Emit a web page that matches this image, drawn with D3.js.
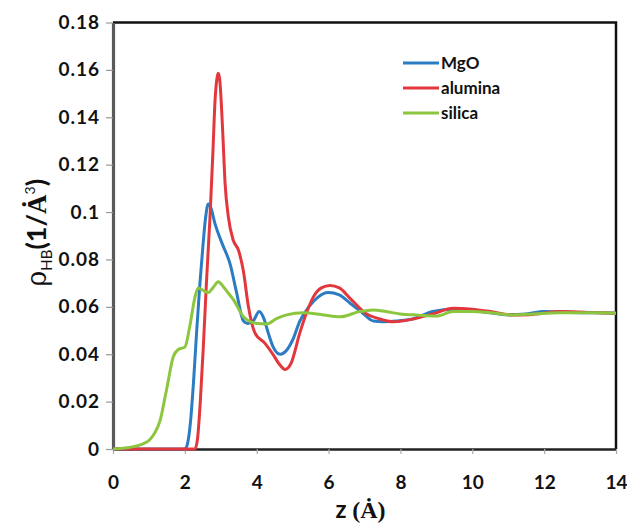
<!DOCTYPE html>
<html>
<head>
<meta charset="utf-8">
<script src="https://cdn.jsdelivr.net/npm/d3@7"></script>
<style>
  body { margin: 0; background: #fff; }
  svg { display: block; }
  .tick text { font-family: Lato, "Open Sans", sans-serif; font-weight: bold; font-size: 19px; fill: #111; }
  .y.axis .tick text { letter-spacing: 1px; }
  .legend text { font-family: Lato, "Open Sans", sans-serif; font-weight: bold; font-size: 17px; fill: #111; }
</style>
</head>
<body>
<div id="chart"></div>
<script>
// series: z in angstrom, rho_HB in 1/A^3
const mgoZ = [0, 2.0, 2.07, 2.16, 2.24, 2.33, 2.42, 2.51, 2.58, 2.65, 2.72, 2.84, 3.03, 3.26, 3.44, 3.63, 3.75, 3.9, 4.07, 4.2, 4.32, 4.46, 4.65, 4.85, 5.0, 5.2, 5.45, 5.7, 5.99, 6.3, 6.6, 6.9, 7.25, 7.52, 7.9, 8.36, 8.9, 9.5, 10, 10.5, 11, 11.5, 12, 12.5, 13, 13.5, 14];
const mgoV = [0, 0, 0.002, 0.012, 0.028, 0.05, 0.070, 0.087, 0.098, 0.1034, 0.102, 0.095, 0.087, 0.078, 0.066, 0.054, 0.053, 0.054, 0.058, 0.055, 0.049, 0.043, 0.040, 0.042, 0.046, 0.054, 0.060, 0.064, 0.066, 0.065, 0.0615, 0.058, 0.054, 0.0537, 0.054, 0.055, 0.058, 0.059, 0.0585, 0.0575, 0.0567, 0.057, 0.058, 0.0578, 0.0575, 0.0575, 0.0573];

const aluminaZ = [0, 2.28, 2.35, 2.43, 2.51, 2.6, 2.70, 2.78, 2.84, 2.9, 2.93, 2.97, 3.05, 3.12, 3.21, 3.35, 3.49, 3.63, 3.77, 3.95, 4.23, 4.45, 4.62, 4.79, 4.95, 5.2, 5.4, 5.57, 5.8, 6.04, 6.3, 6.6, 7.06, 7.4, 7.8, 8.4, 8.9, 9.47, 10, 10.5, 11.1, 11.6, 12.4, 13, 13.5, 14];
const aluminaV = [0, 0, 0.004, 0.02, 0.042, 0.07, 0.098, 0.125, 0.147, 0.157, 0.1586, 0.156, 0.135, 0.112, 0.098, 0.088, 0.084, 0.075, 0.060, 0.049, 0.0446, 0.040, 0.036, 0.0336, 0.036, 0.049, 0.058, 0.064, 0.068, 0.069, 0.068, 0.0636, 0.057, 0.055, 0.0537, 0.055, 0.057, 0.0594, 0.059, 0.058, 0.0566, 0.0567, 0.058, 0.0578, 0.0575, 0.0573];

const silicaZ = [0, 0.57, 0.8, 1.03, 1.17, 1.31, 1.49, 1.68, 1.82, 2.0, 2.14, 2.28, 2.37, 2.5, 2.65, 2.78, 2.93, 3.07, 3.2, 3.35, 3.63, 3.85, 4.0, 4.28, 4.55, 4.83, 5.3, 5.86, 6.32, 6.87, 7.25, 7.6, 7.99, 8.5, 9.0, 9.47, 10, 10.5, 11.14, 11.7, 12.4, 13, 13.5, 14];
const silicaV = [0, 0.001, 0.002, 0.004, 0.007, 0.012, 0.025, 0.039, 0.042, 0.043, 0.052, 0.064, 0.068, 0.067, 0.066, 0.068, 0.0706, 0.0685, 0.066, 0.063, 0.0558, 0.0535, 0.053, 0.0528, 0.055, 0.0566, 0.0575, 0.0566, 0.0558, 0.058, 0.0587, 0.058, 0.057, 0.0565, 0.0561, 0.058, 0.058, 0.0575, 0.0566, 0.057, 0.0575, 0.0575, 0.0575, 0.0573];

const seriesNames = ["MgO", "alumina", "silica"];
const xTicks = [0, 2, 4, 6, 8, 10, 12, 14];
const yTicks = [0, 0.02, 0.04, 0.06, 0.08, 0.1, 0.12, 0.14, 0.16, 0.18];

const colors = { "MgO": "#2b7cc3", "alumina": "#e2383d", "silica": "#8cc63f" };

const series = [
    { name: "MgO", pts: mgoZ.map((z, i) => ({ x: z, y: mgoV[i] })) },
    { name: "alumina", pts: aluminaZ.map((z, i) => ({ x: z, y: aluminaV[i] })) },
    { name: "silica", pts: silicaZ.map((z, i) => ({ x: z, y: silicaV[i] })) },
];

const margin = { top: 22.5, left: 113, right: 11, bottom: 78 },
    width = 627 - margin.left - margin.right,
    height = 527 - margin.top - margin.bottom;

const svg = d3.select("#chart")
    .append("svg")
    .attr("width", 627)
    .attr("height", 527);
const g = svg.append("g")
    .attr("transform", "translate(" + margin.left + "," + margin.top + ")");

const xScale = d3.scaleLinear().domain([0, 14]).range([0, width]);
const yScale = d3.scaleLinear().domain([0, 0.18]).range([height, 0]);

// frame: top and right in black
g.append("path")
    .attr("d", `M0,0H${width}V${height}`)
    .attr("fill", "none")
    .attr("stroke", "#111")
    .attr("stroke-width", 2.5);

const xAxis = g.append("g")
    .attr("class", "x axis")
    .attr("transform", "translate(0," + height + ")")
    .call(d3.axisBottom(xScale).tickValues(xTicks).tickSize(5).tickSizeOuter(0).tickPadding(22));
xAxis.select(".domain").attr("stroke", "#222").attr("stroke-width", 2.5);
xAxis.selectAll(".tick line").attr("stroke", "#aaa").attr("stroke-width", 1.2);

const yAxis = g.append("g")
    .attr("class", "y axis")
    .call(d3.axisLeft(yScale).tickValues(yTicks).tickSize(7).tickSizeOuter(0).tickPadding(6)
        .tickFormat((d) => String(+d.toFixed(2))));
yAxis.select(".domain").attr("stroke", "#5a5a5a").attr("stroke-width", 3.2);
yAxis.selectAll(".tick line").attr("stroke", "#999").attr("stroke-width", 1.2);

const line = d3.line()
    .x((d) => xScale(d.x))
    .y((d) => yScale(d.y))
    .curve(d3.curveMonotoneX);

["MgO", "alumina", "silica"].forEach((name) => {
    const s = series.find((d) => d.name === name);
    g.append("path")
        .attr("class", "line-" + name)
        .attr("fill", "none")
        .attr("stroke", colors[name])
        .attr("stroke-width", 3)
        .attr("stroke-linejoin", "round")
        .attr("d", line(s.pts));
});

// legend
const legend = svg.append("g").attr("class", "legend");
seriesNames.forEach((name, i) => {
    const yy = 63 + i * 25;
    legend.append("line")
        .attr("x1", 403).attr("x2", 439)
        .attr("y1", yy).attr("y2", yy)
        .attr("stroke", colors[name])
        .attr("stroke-width", 3);
    legend.append("text")
        .attr("x", 441).attr("y", yy)
        .attr("dy", "0.35em")
        .text(name);
});

// x title
const xt = svg.append("text")
    .attr("x", margin.left + width / 2 - 4)
    .attr("y", 518)
    .attr("text-anchor", "middle")
    .attr("font-size", 24)
    .attr("font-weight", "bold")
    .attr("fill", "#111");
xt.append("tspan").attr("font-family", "Lato, sans-serif").text("z ");
xt.append("tspan").attr("font-family", "'Liberation Serif', 'DejaVu Serif', serif").text("(\u0226)");

// y title
const yt = svg.append("text")
    .attr("transform", "translate(46," + (margin.top + height / 2 - 3) + ") rotate(-90)")
    .attr("text-anchor", "middle")
    .attr("font-size", 27)
    .attr("fill", "#111");
yt.append("tspan").attr("font-family", "'DejaVu Serif', serif").text("\u03c1");
yt.append("tspan").attr("font-family", "Lato, sans-serif").attr("font-size", 15).attr("dy", 6).text("HB");
yt.append("tspan").attr("font-family", "Lato, sans-serif").attr("font-weight", "bold").attr("dy", -6).text("(1/");
yt.append("tspan").attr("font-family", "'Liberation Serif', serif").attr("font-weight", "bold").text("\u0226");
yt.append("tspan").attr("font-family", "Lato, sans-serif").attr("font-size", 14).attr("dy", -11).text("3");
yt.append("tspan").attr("font-family", "Lato, sans-serif").attr("font-weight", "bold").attr("dy", 11).text(")");
</script>
</body>
</html>
